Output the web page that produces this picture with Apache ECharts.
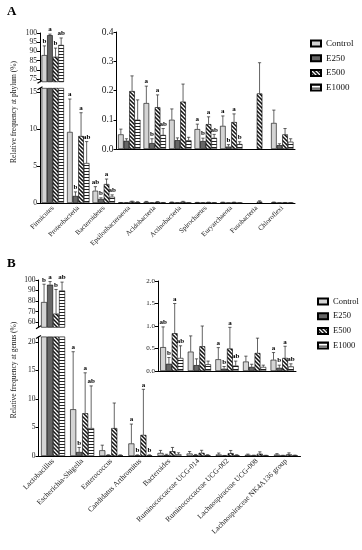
<!DOCTYPE html>
<html><head><meta charset="utf-8">
<script src="https://cdn.jsdelivr.net/npm/echarts@6/dist/echarts.min.js"></script>
<style>html,body{margin:0;padding:0;background:#fff}#c{width:362px;height:550px}</style>
</head><body><div id="c"></div><script>
const groups = ['Control','E250','E500','E1000'];

// ---------- Panel A (phylum) ----------
const phyla = ['Firmicutes','Proteobacteria','Bacteroidetes','Epsilonbacteraeota','Acidobacteria','Actinobacteria','Spirochaetes','Euryarchaeota','Fusobacteria','Chloroflexi'];
const phylaControl = [88.0, 9.6, 1.66, 0.050, 0.157, 0.100, 0.068, 0.079, 0, 0.089];
const phylaE250    = [98.8, 0.95, 0.54, 0.028, 0.020, 0.030, 0.027, 0.008, 0, 0.013];
const phylaE500    = [87.1, 9.05, 2.56, 0.198, 0.143, 0.162, 0.085, 0.092, 0.190, 0.050];
const phylaE1000   = [93.5, 5.4, 0.85, 0.100, 0.048, 0.030, 0.038, 0.017, 0, 0.025];
const phylaSdControl = [5.0, 4.45, 0.55, 0.018, 0.058, 0.037, 0.017, 0.034, 0, 0.044];
const phylaSdE250    = [0.6, 0.55, 0.16, 0.007, 0.015, 0.008, 0.010, 0.007, 0, 0.005];
const phylaSdE500    = [4.7, 3.15, 0.68, 0.052, 0.042, 0.060, 0.025, 0.028, 0.105, 0.020];
const phylaSdE1000   = [3.8, 2.9, 0.25, 0.068, 0.022, 0.010, 0.012, 0.008, 0, 0.010];
const phylaLetControl = ['b','a','ab','','a','','a','a','',''];
const phylaLetE250    = ['a','b','b','','b','','b','b','',''];
const phylaLetE500    = ['b','a','a','','a','','a','a','',''];
const phylaLetE1000   = ['ab','ab','ab','','ab','','ab','b','',''];
const phylaTopTicks  = [75, 80, 85, 90, 95, 100];
const phylaMainTicks = [0, 5, 10, 15];

// ---------- Panel B (genus) ----------
const genera = ['Lactobacillus','Escherichia-Shigella','Enterococcus','Candidatus Arthromitus','Bacteroides','Ruminococcaceae UCG-014','Ruminococcaceae UCG-002','Lachnospiraceae UCG-008','Lachnospiraceae NK4A136 group'];
const genusControl = [79.0, 8.2, 1.0, 2.2, 0.53, 0.43, 0.26, 0.21, 0.25];
const genusE250    = [95.5, 0.7, 0.12, 0.10, 0.16, 0.13, 0.05, 0.09, 0.07];
const genusE500    = [68.0, 7.5, 4.9, 3.7, 0.84, 0.55, 0.50, 0.40, 0.29];
const genusE1000   = [90.0, 4.9, 0.10, 0.10, 0.29, 0.15, 0.12, 0.09, 0.10];
const genusSdControl = [17.0, 10.1, 0.9, 3.4, 0.45, 0.35, 0.26, 0.12, 0.16];
const genusSdE250    = [3.0, 0.8, 0.1, 0.1, 0.14, 0.14, 0.05, 0.06, 0.06];
const genusSdE500    = [23.0, 7.1, 4.4, 8.0, 0.66, 0.45, 0.47, 0.33, 0.26];
const genusSdE1000   = [8.0, 7.4, 0.1, 0.1, 0.27, 0.07, 0.10, 0.04, 0.06];
const genusLetControl = ['b','a','','a','ab','','a','','a'];
const genusLetE250    = ['a','b','','b','b','','b','','b'];
const genusLetE500    = ['b','a','','a','a','','a','','a'];
const genusLetE1000   = ['ab','ab','','b','ab','','ab','','ab'];
const genusTopTicks  = [60, 70, 80, 90, 100];
const genusMainTicks = [0, 5, 10, 15, 20];

const FONT = '"Liberation Serif","Times New Roman",serif';

function makePattern(kind){
  const c = document.createElement('canvas');
  if (kind === 'diag') {
    c.width = 4; c.height = 4;
    const x = c.getContext('2d');
    x.fillStyle = '#111'; x.fillRect(0,0,4,4);
    x.strokeStyle = '#fff'; x.lineWidth = 1.3;
    x.beginPath();
    x.moveTo(-1,-1); x.lineTo(5,5);
    x.moveTo(-1,3); x.lineTo(1,5);
    x.moveTo(3,-1); x.lineTo(5,1);
    x.stroke();
  } else {
    c.width = 2; c.height = 3;
    const x = c.getContext('2d');
    x.fillStyle = '#fff'; x.fillRect(0,0,2,3);
    x.fillStyle = '#222'; x.fillRect(0,0,2,1);
  }
  return c;
}
const fills = ['#d4d4d4', '#666666',
  {image: makePattern('diag'), repeat: 'repeat'},
  {image: makePattern('horiz'), repeat: 'repeat'}];

// grid layout (pixels)
const G = [
  {left:40,   top:33,   width:255,   height:48.8},  // A top
  {left:40,   top:88.3, width:255,   height:114.7}, // A main
  {left:116.5,top:32,   width:178.5, height:117},   // A inset
  {left:38.5, top:280,  width:262,   height:47.3},  // B top
  {left:38.5, top:336.9,width:262,   height:119.1}, // B main
  {left:158,  top:281,  width:138,   height:90}     // B inset
];

const series = [];
function addSeries(gridIdx, cats, shift, means, sds, lets, barIdx, errIdx, letIdx, bw) {
  groups.forEach((name, gi) => {
    const m = means[gi], s = sds[gi], L = lets[gi];
    series.push({
      type: 'bar', name, xAxisIndex: gridIdx, yAxisIndex: gridIdx,
      barWidth: bw, barGap: '0%', silent: true,
      data: cats.map((c, k) => { const i = k + shift; return (barIdx.includes(i) && m[i] > 0) ? m[i] : '-'; }),
      itemStyle: {color: fills[gi], borderColor: '#000', borderWidth: 0.6}
    });
    const ed = errIdx.map(i => [i - shift, m[i], m[i] + s[i]]);
    const el = errIdx.map(i => letIdx.includes(i) ? L[i] : '');
    series.push({
      type: 'custom', xAxisIndex: gridIdx, yAxisIndex: gridIdx, data: ed, z: 10, silent: true,
      renderItem: (p, api) => {
        const i = api.value(0), mv = api.value(1), t = api.value(2);
        const pb = api.coord([i, mv]), pt = api.coord([i, t]);
        const x = pb[0] + (gi - 1.5) * bw;
        const ch = [];
        if (t > mv) {
          ch.push({type:'line', shape:{x1:x, y1:pb[1], x2:x, y2:pt[1]}, style:{stroke:'#222', lineWidth:0.7}});
          ch.push({type:'line', shape:{x1:x-1.6, y1:pt[1], x2:x+1.6, y2:pt[1]}, style:{stroke:'#222', lineWidth:0.7}});
        }
        const lt = el[p.dataIndex];
        if (lt) ch.push({type:'text', x: x, y: pt[1] - 1,
          style:{text: lt, font: 'bold 7px ' + FONT, fill:'#000', align:'center', verticalAlign:'bottom'}});
        return {type:'group', children: ch};
      }
    });
  });
}

const range = (a, b) => { const r = []; for (let i = a; i <= b; i++) r.push(i); return r; };
const pMeans = [phylaControl, phylaE250, phylaE500, phylaE1000];
const pSds = [phylaSdControl, phylaSdE250, phylaSdE500, phylaSdE1000];
const pLets = [phylaLetControl, phylaLetE250, phylaLetE500, phylaLetE1000];
const gMeans = [genusControl, genusE250, genusE500, genusE1000];
const gSds = [genusSdControl, genusSdE250, genusSdE500, genusSdE1000];
const gLets = [genusLetControl, genusLetE250, genusLetE500, genusLetE1000];

addSeries(0, phyla, 0, pMeans, pSds, pLets, [0], [0], [0], 5.6);
addSeries(1, phyla, 0, pMeans, pSds, pLets, range(0,9), range(1,9), [1,2], 5.6);
addSeries(2, phyla.slice(3), 3, pMeans, pSds, pLets, range(3,9), range(3,9), range(3,9), 5.6);
addSeries(3, genera, 0, gMeans, gSds, gLets, [0], [0], [0], 6);
addSeries(4, genera, 0, gMeans, gSds, gLets, range(0,8), range(1,8), [1,2,3], 6);
addSeries(5, genera.slice(4), 4, gMeans, gSds, gLets, range(4,8), range(4,8), range(4,8), 5.8);

const axisLine = {lineStyle:{color:'#000', width:1}};
const axisTick = {length:3, lineStyle:{color:'#000', width:1}};
function xAx(gi, data, labels, show, fs) {
  return {type:'category', gridIndex: gi, data, show, boundaryGap: true,
    axisLine, axisTick: Object.assign({alignWithLabel: true, interval: 0}, axisTick),
    axisLabel: labels ? {interval:0, rotate:45, fontSize: fs, fontFamily: FONT, color:'#222', margin: 4} : {show:false},
    splitLine:{show:false}};
}
function yAx(gi, min, max, ticks, fs, dec) {
  const o = {type:'value', gridIndex: gi, min, max,
    axisLine: Object.assign({show:true}, axisLine),
    axisTick: Object.assign({show:true}, axisTick),
    axisLabel: {fontSize: fs, fontFamily: FONT, color:'#222', margin: 3,
      formatter: v => dec ? v.toFixed(1) : String(v)},
    splitLine:{show:false}};
  if (Array.isArray(ticks)) { o.axisTick.customValues = ticks; o.axisLabel.customValues = ticks; }
  else { o.interval = ticks; }
  return o;
}

const chart = echarts.init(document.getElementById('c'), null, {renderer:'canvas'});
function brk(x, y) {
  return {type:'line', shape:{x1:x-2.5, y1:y+1.5, x2:x+2.5, y2:y-1.5}, style:{stroke:'#000', lineWidth:1.2}};
}
chart.setOption({
  animation: false,
  backgroundColor: '#fff',
  grid: G.map(g => Object.assign({containLabel:false}, g)),
  xAxis: [
    xAx(0, phyla, false, false),
    xAx(1, phyla, true, true, 7),
    xAx(2, phyla.slice(3), false, true),
    xAx(3, genera, false, false),
    xAx(4, genera, true, true, 7.5),
    xAx(5, genera.slice(4), false, true)
  ],
  yAxis: [
    yAx(0, 73.5, 100, phylaTopTicks, 7.5, false),
    yAx(1, 0, 15.5, phylaMainTicks, 7.5, false),
    yAx(2, 0, 0.4, 0.1, 9.5, true),
    yAx(3, 55, 100, genusTopTicks, 7.5, false),
    yAx(4, 0, 20.9, genusMainTicks, 7.5, false),
    yAx(5, 0, 2, 0.5, 7, true)
  ],
  legend: [
    {data: groups, orient:'vertical', left: 305, top: 34, icon:'rect', itemWidth: 10, itemHeight: 6, itemGap: 5.7,
     selectedMode: false, textStyle:{fontFamily: FONT, fontSize: 9, color:'#111'}},
    {data: groups, orient:'vertical', left: 312, top: 292, icon:'rect', itemWidth: 10, itemHeight: 6, itemGap: 5.7,
     selectedMode: false, textStyle:{fontFamily: FONT, fontSize: 8.5, color:'#111'}}
  ],
  graphic: [
    {type:'text', left: 7, top: 5, style:{text:'A', font:'bold 13px ' + FONT, fill:'#000'}},
    {type:'text', left: 7, top: 257, style:{text:'B', font:'bold 13px ' + FONT, fill:'#000'}},
    {type:'text', x: 14, y: 112, rotation: Math.PI/2,
     style:{text:'Relative frequency at phylum (%)', font:'7.5px ' + FONT, fill:'#222', align:'center', verticalAlign:'middle'}},
    {type:'text', x: 14, y: 370, rotation: Math.PI/2,
     style:{text:'Relative frequency at genus (%)', font:'7.5px ' + FONT, fill:'#222', align:'center', verticalAlign:'middle'}},
    brk(G[0].left, G[0].top + G[0].height),
    brk(G[1].left, G[1].top),
    brk(G[3].left, G[3].top + G[3].height),
    brk(G[4].left, G[4].top)
  ],
  series
});
</script></body></html>
